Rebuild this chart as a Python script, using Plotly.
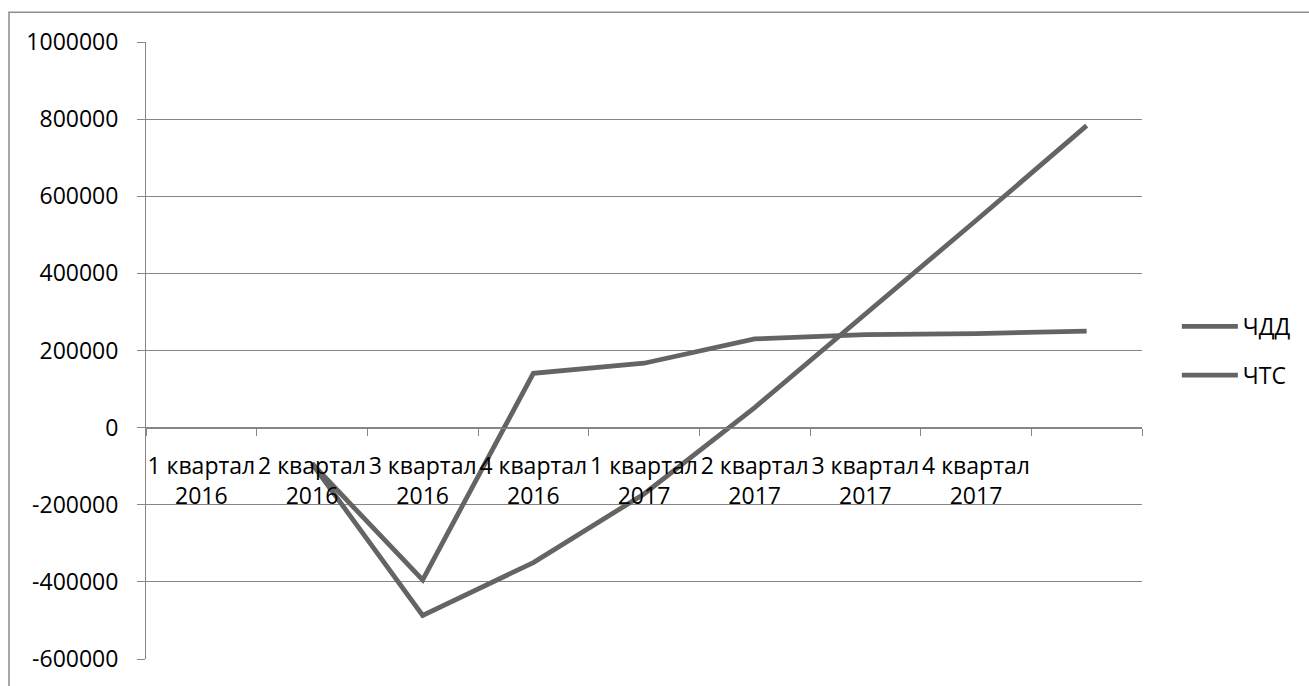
import plotly.graph_objects as go

# Quarter labels (the ninth slot on the category axis carries no label)
quarters = [
    "1 квартал<br>2016", "2 квартал<br>2016", "3 квартал<br>2016", "4 квартал<br>2016",
    "1 квартал<br>2017", "2 квартал<br>2017", "3 квартал<br>2017", "4 квартал<br>2017",
    " ",
]

# Series values by slot (first slot empty)
chdd = [None, -93000, -395000, 141000, 167000, 230000, 241000, 244000, 250000]
chts = [None, -93000, -487000, -350000, -172000, 52000, 293000, 537000, 783000]

y_ticks = [-600000, -400000, -200000, 0, 200000, 400000, 600000, 800000, 1000000]

LINE = "#646464"
GRID = "#868686"
FONT = "Open Sans"
FS = 23

fig = go.Figure()
fig.add_trace(go.Scatter(x=quarters, y=chdd, name="ЧДД", mode="lines",
                         line=dict(color=LINE, width=4.8), legendgroup="a",
                         connectgaps=False))
fig.add_trace(go.Scatter(x=quarters, y=chts, name="ЧТС", mode="lines",
                         line=dict(color=LINE, width=4.8), legendgroup="b",
                         connectgaps=False))

ymin, ymax = y_ticks[0], y_ticks[-1]
zero_pos = (0 - ymin) / (ymax - ymin)

fig.update_layout(
    width=1309, height=686,
    margin=dict(l=146, r=167, t=42, b=23),
    paper_bgcolor="white", plot_bgcolor="white",
    font=dict(family=FONT, size=FS, color="black"),
    showlegend=True,
    legend=dict(x=1.035, y=0.574, xanchor="left", yanchor="top",
                bgcolor="rgba(0,0,0,0)", tracegroupgap=16, itemwidth=56,
                traceorder="grouped", font=dict(size=FS)),
    xaxis=dict(
        type="category", categoryorder="array", categoryarray=quarters,
        range=[-0.5, len(quarters) - 0.5],
        tickson="boundaries", ticks="outside", ticklen=7, tickcolor=GRID,
        tickwidth=1, showgrid=False, showline=True, linecolor=GRID, linewidth=1,
        anchor="free", position=zero_pos, tickangle=0,
        ticklabelstandoff=18, tickfont=dict(size=FS), fixedrange=True,
    ),
    yaxis=dict(
        range=[ymin, ymax], tickvals=y_ticks,
        ticktext=[str(v) for v in y_ticks],
        showgrid=True, gridcolor=GRID, gridwidth=1,
        zeroline=False, showline=True, linecolor=GRID, linewidth=1,
        ticks="outside", ticklen=8, tickcolor=GRID,
        ticklabelstandoff=14, tickfont=dict(size=FS), fixedrange=True,
    ),
    shapes=[
        dict(type="rect", xref="paper", yref="paper",
             x0=(9 - 146) / 996, x1=1.3, y0=-0.2, y1=(663 - 12) / 621,
             line=dict(color="#8c8c8c", width=1.5), fillcolor="rgba(0,0,0,0)",
             layer="below"),
    ],
)

fig.write_html("out.html")
